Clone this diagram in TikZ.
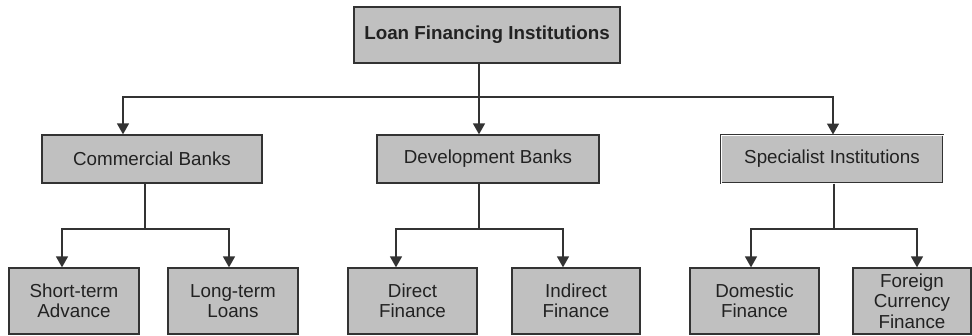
\documentclass[tikz,border=0pt]{standalone}
\usepackage{fontspec}
\setmainfont{Liberation Sans}
\usetikzlibrary{arrows.meta}
\definecolor{boxfill}{HTML}{C0C0C0}
\definecolor{linec}{HTML}{333333}
\definecolor{textc}{HTML}{222222}
\tikzset{
  box/.style={draw=linec, line width=1.3pt, fill=boxfill, text=textc, inner sep=0pt, align=center,
    font=\fontsize{18.8}{20.5}\selectfont},
  conn/.style={draw=linec, line width=1.5pt},
  arr/.style={conn, -{Triangle[width=12pt,length=11pt]}},
}
\begin{document}
\begin{tikzpicture}[x=1pt,y=-1pt]
\useasboundingbox (0,0) rectangle (972,335);
% top
\node[box, minimum width=266pt, minimum height=56pt, font=\fontsize{18.8}{20.5}\selectfont\bfseries] (top) at (487,35) {Loan Financing Institutions};
% level 2
\node[box, minimum width=220pt, minimum height=48pt] (cb) at (152,159) {Commercial Banks};
\node[box, minimum width=222pt, minimum height=48pt] (db) at (488,159) {Development Banks};
\node[box, minimum width=222pt, minimum height=48pt, line width=1pt, double=white, double distance=0.9pt] (si) at (832,159) {Specialist Institutions};
% level 3
\node[box, minimum width=130pt, minimum height=66pt] (st) at (74,301) {Short-term\\Advance};
\node[box, minimum width=130pt, minimum height=66pt] (lt) at (233,301) {Long-term\\Loans};
\node[box, minimum width=129pt, minimum height=66pt] (df) at (412.5,301) {Direct\\Finance};
\node[box, minimum width=128pt, minimum height=66pt] (if) at (576,301) {Indirect\\Finance};
\node[box, minimum width=129pt, minimum height=66pt] (dom) at (754.5,301) {Domestic\\Finance};
\node[box, minimum width=118pt, minimum height=66pt] (fc) at (912,301) {Foreign\\Currency\\Finance};
% junctions
\coordinate (j0) at (479,97);
\coordinate (j1) at (145,229);
\coordinate (j2) at (479,229);
\coordinate (j3) at (834,229);
% top connectors
\draw[arr] (top.south -| j0) -- (db.north -| j0);
\draw[arr] (j0) -| ([xshift=-29pt]cb.north);
\draw[arr] (j0) -| ([xshift=1pt]si.north);
% commercial
\draw[conn] (cb.south -| j1) -- (j1);
\draw[arr] (j1) -| ([xshift=-12pt]st.north);
\draw[arr] (j1) -| ([xshift=-4pt]lt.north);
% development
\draw[conn] (db.south -| j2) -- (j2);
\draw[arr] (j2) -| ([xshift=-16.5pt]df.north);
\draw[arr] (j2) -| ([xshift=-13pt]if.north);
% specialist
\draw[conn] (si.south -| j3) -- (j3);
\draw[arr] (j3) -| ([xshift=-3.5pt]dom.north);
\draw[arr] (j3) -| ([xshift=5pt]fc.north);
\end{tikzpicture}
\end{document}
